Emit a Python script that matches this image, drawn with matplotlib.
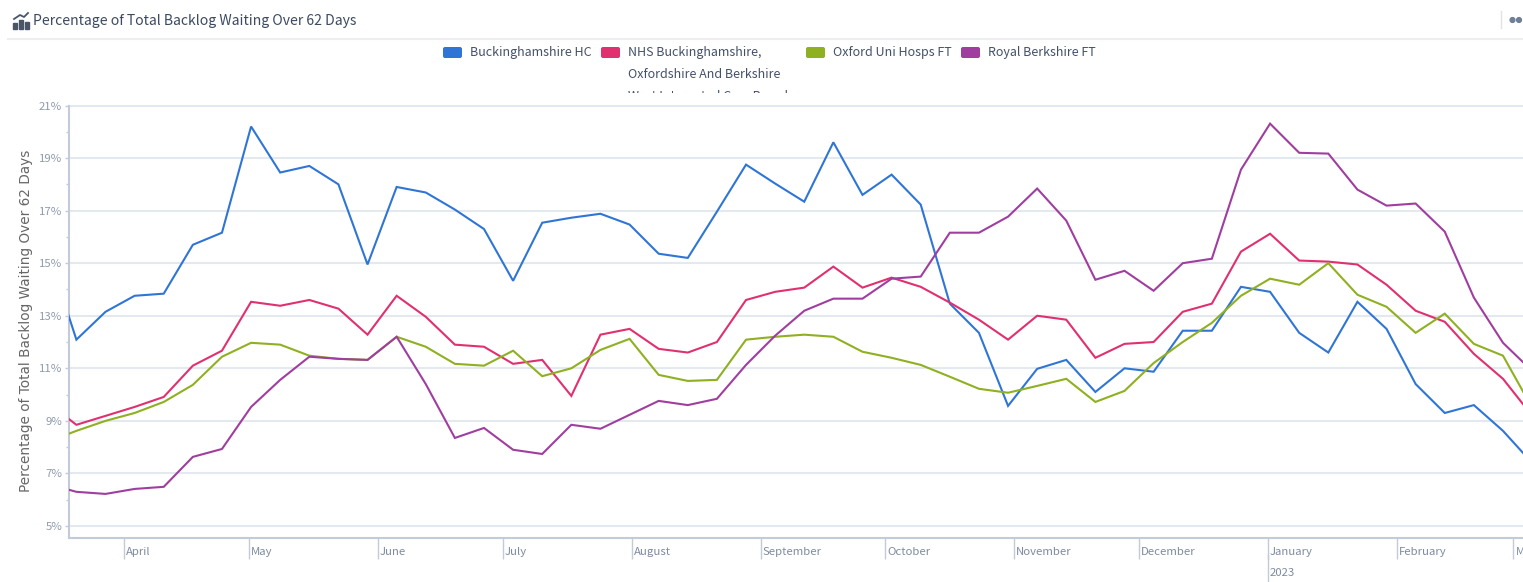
import numpy as np
import matplotlib

matplotlib.use('Agg')
from matplotlib import pyplot as plt
from matplotlib import dates as mdates
from matplotlib.patches import FancyBboxPatch, Rectangle, Circle
from matplotlib.transforms import ScaledTranslation, Bbox

# weekly points, first one sits left of the visible window
week_dates = np.arange(np.datetime64('2022-03-13T12'), np.datetime64('2023-03-06T12'), np.timedelta64(7, 'D'))

buckinghamshire = [15.5, 12.09, 13.15, 13.76, 13.84, 15.7, 16.16, 20.2, 18.45, 18.7, 18.0, 14.95, 17.9, 17.69,
                   17.04, 16.3, 14.33, 16.54, 16.73, 16.88, 16.47, 15.36, 15.2, 16.96, 18.75, 18.03, 17.34, 19.6,
                   17.6, 18.37, 17.23, 13.46, 12.35, 9.57, 10.98, 11.32, 10.1, 11.0, 10.87, 12.43, 12.43, 14.1,
                   13.91, 12.35, 11.6, 13.53, 12.5, 10.4, 9.3, 9.6, 8.62, 7.4]
nhs_bob = [9.7, 8.85, 9.19, 9.53, 9.91, 11.1, 11.67, 13.53, 13.38, 13.6, 13.27, 12.28, 13.76, 12.96,
           11.9, 11.82, 11.17, 11.32, 9.95, 12.28, 12.5, 11.74, 11.6, 12.0, 13.6, 13.91, 14.07, 14.87,
           14.07, 14.45, 14.1, 13.5, 12.85, 12.09, 13.0, 12.85, 11.4, 11.93, 12.0, 13.15, 13.46, 15.44,
           16.12, 15.1, 15.06, 14.95, 14.18, 13.19, 12.77, 11.55, 10.6, 9.2]
oxford = [8.2, 8.62, 9.0, 9.3, 9.72, 10.37, 11.44, 11.97, 11.9, 11.48, 11.36, 11.32, 12.2, 11.82,
          11.17, 11.1, 11.67, 10.7, 11.0, 11.7, 12.12, 10.75, 10.52, 10.56, 12.09, 12.2, 12.28, 12.2,
          11.63, 11.4, 11.13, 10.68, 10.22, 10.07, 10.33, 10.6, 9.72, 10.14, 11.2, 12.0, 12.73, 13.76,
          14.41, 14.18, 15.0, 13.8, 13.34, 12.35, 13.08, 11.93, 11.48, 9.5]
royal_berkshire = [6.6, 6.3, 6.22, 6.41, 6.49, 7.63, 7.93, 9.53, 10.56, 11.44, 11.36, 11.32, 12.2, 10.4,
                   8.35, 8.73, 7.9, 7.74, 8.85, 8.7, 9.23, 9.76, 9.6, 9.84, 11.13, 12.24, 13.19, 13.65,
                   13.65, 14.41, 14.49, 16.16, 16.16, 16.77, 17.84, 16.62, 14.37, 14.71, 13.95, 15.0, 15.17, 18.56,
                   20.31, 19.2, 19.17, 17.8, 17.19, 17.27, 16.2, 13.69, 11.97, 10.9]

series_names = ['Buckinghamshire HC', 'NHS Buckinghamshire,\nOxfordshire And Berkshire', 'Oxford Uni Hosps FT',
                'Royal Berkshire FT']
series_colors = ['#2f75d6', '#e0306f', '#8fb021', '#a03ea0']

month_dates = ['2022-04-01', '2022-05-01', '2022-06-01', '2022-07-01', '2022-08-01', '2022-09-01', '2022-10-01',
               '2022-11-01', '2022-12-01', '2023-01-01', '2023-02-01', '2023-03-01']
month_labels = ['April', 'May', 'June', 'July', 'August', 'September', 'October', 'November', 'December',
                'January\n2023', 'February', 'March']
y_ticks = [5, 7, 9, 11, 13, 15, 17, 19, 21]

W, H = 1523, 582
PX = 0.72  # points per pixel at dpi 100

# latin glyphs of this family are the closest to the narrow dashboard font
plt.rcParams['font.family'] = ['Noto Sans CJK SC', 'DejaVu Sans']
fig = plt.figure(figsize=(W / 100, H / 100), dpi=100, facecolor='white')

# pixel canvas for the page furniture (header, legend)
page = fig.add_axes([0, 0, 1, 1])
page.set_xlim(0, W)
page.set_ylim(H, 0)
page.axis('off')

page.plot([8, W], [38.5, 38.5], color='#eeeef0', linewidth=1.5)
page.plot([1501.5, 1501.5], [11, 28], color='#e2e2e4', linewidth=1)
page.add_patch(Circle((1512.5, 20), 2.4, color='#6f7f98'))
page.add_patch(Circle((1519, 20), 2.4, color='#6f7f98'))

# chart icon next to the title
for bx, by in zip([13, 19, 25], [23, 20, 22]):
    page.add_patch(Rectangle((bx, by), 4, 29 - by, color='#4a5568'))
page.plot([14, 20, 24, 28], [19, 15, 17, 13], color='#4a5568', linewidth=1.3)

page.text(33, 20.5, 'Percentage of Total Backlog Waiting Over 62 Days', fontsize=10.1, color='#3c4a62', va='center')

swatch_x = [443, 601, 806, 961]
label_x = [470, 628, 833, 988]
for sx, tx, name, col in zip(swatch_x, label_x, series_names, series_colors):
    page.add_patch(FancyBboxPatch((sx + 2, 49), 15, 7, boxstyle='round,pad=2', color=col, linewidth=0))
    page.text(tx, 46, name, fontsize=9, color='#44516a', va='top', linespacing=1.85)

# third legend line is cut off by the legend box
cut = page.text(628, 90, 'West Integrated Care Board', fontsize=9, color='#44516a', va='top')
cut.set_clip_on(True)
cut.set_clip_box(Bbox([[620, H - 93], [800, H - 80]]))

# plot area
left, right, top, bottom = 69, W, 105.5, 538
ax = fig.add_axes([left / W, 1 - bottom / H, (right - left) / W, (bottom - top) / H])
ax.patch.set_alpha(0)

x_dates = mdates.date2num(week_dates)
months = mdates.date2num(np.array(month_dates, dtype='datetime64[D]'))

# May 1st at pixel 249, Jan 1st at pixel 1268
px_per_day = (1268 - 249) / (months[9] - months[1])
x0 = months[1] - (249 - left) / px_per_day
x1 = months[1] + (right - 249) / px_per_day

for vals, col in zip([buckinghamshire, nhs_bob, oxford, royal_berkshire], series_colors):
    ax.plot(x_dates, vals, color=col, linewidth=1.5, solid_joinstyle='miter', zorder=3)

ax.set_xlim(x0, x1)
ax.set_ylim(5 - (bottom - 526) / 26.25, 21)

ax.set_yticks(y_ticks)
ax.set_yticklabels([f'{v}%' for v in y_ticks])
ax.set_yticks(np.arange(5, 21), minor=True)
ax.grid(axis='y', which='major', color='#e4e8ef', linewidth=1.5, clip_on=False)
ax.set_axisbelow(True)
ax.tick_params(axis='y', which='major', length=4 * PX, width=1, color='#c3cad8', labelsize=8.2,
               labelcolor='#8f9aae', pad=2)
ax.tick_params(axis='y', which='minor', length=3 * PX, width=1, color='#c3cad8')

ax.set_xticks(months)
ax.set_xticklabels(month_labels, ha='left', linespacing=2.4)
ax.tick_params(axis='x', length=21 * PX, width=1, color='#c3cad8', labelsize=8.2, labelcolor='#7f8ba0',
               pad=-12 * PX)
shift = ScaledTranslation(2 * PX / 72, 0, fig.dpi_scale_trans)
for lab in ax.get_xticklabels():
    lab.set_transform(lab.get_transform() + shift)

# January tick runs on down to the year
ax.plot([months[9], months[9]], [-0.04, -0.11], transform=ax.get_xaxis_transform(), color='#c3cad8', linewidth=1,
        clip_on=False)

for side in ['top', 'right']:
    ax.spines[side].set_visible(False)
for side in ['left', 'bottom']:
    ax.spines[side].set_color('#c3cad8')
    ax.spines[side].set_linewidth(1.5)

page.text(26, 321, 'Percentage of Total Backlog Waiting Over 62 Days', rotation=90, ha='center', va='center',
          fontsize=9.8, color='#666666', family=['DejaVu Sans'])

fig.savefig('out.png', dpi=100)
